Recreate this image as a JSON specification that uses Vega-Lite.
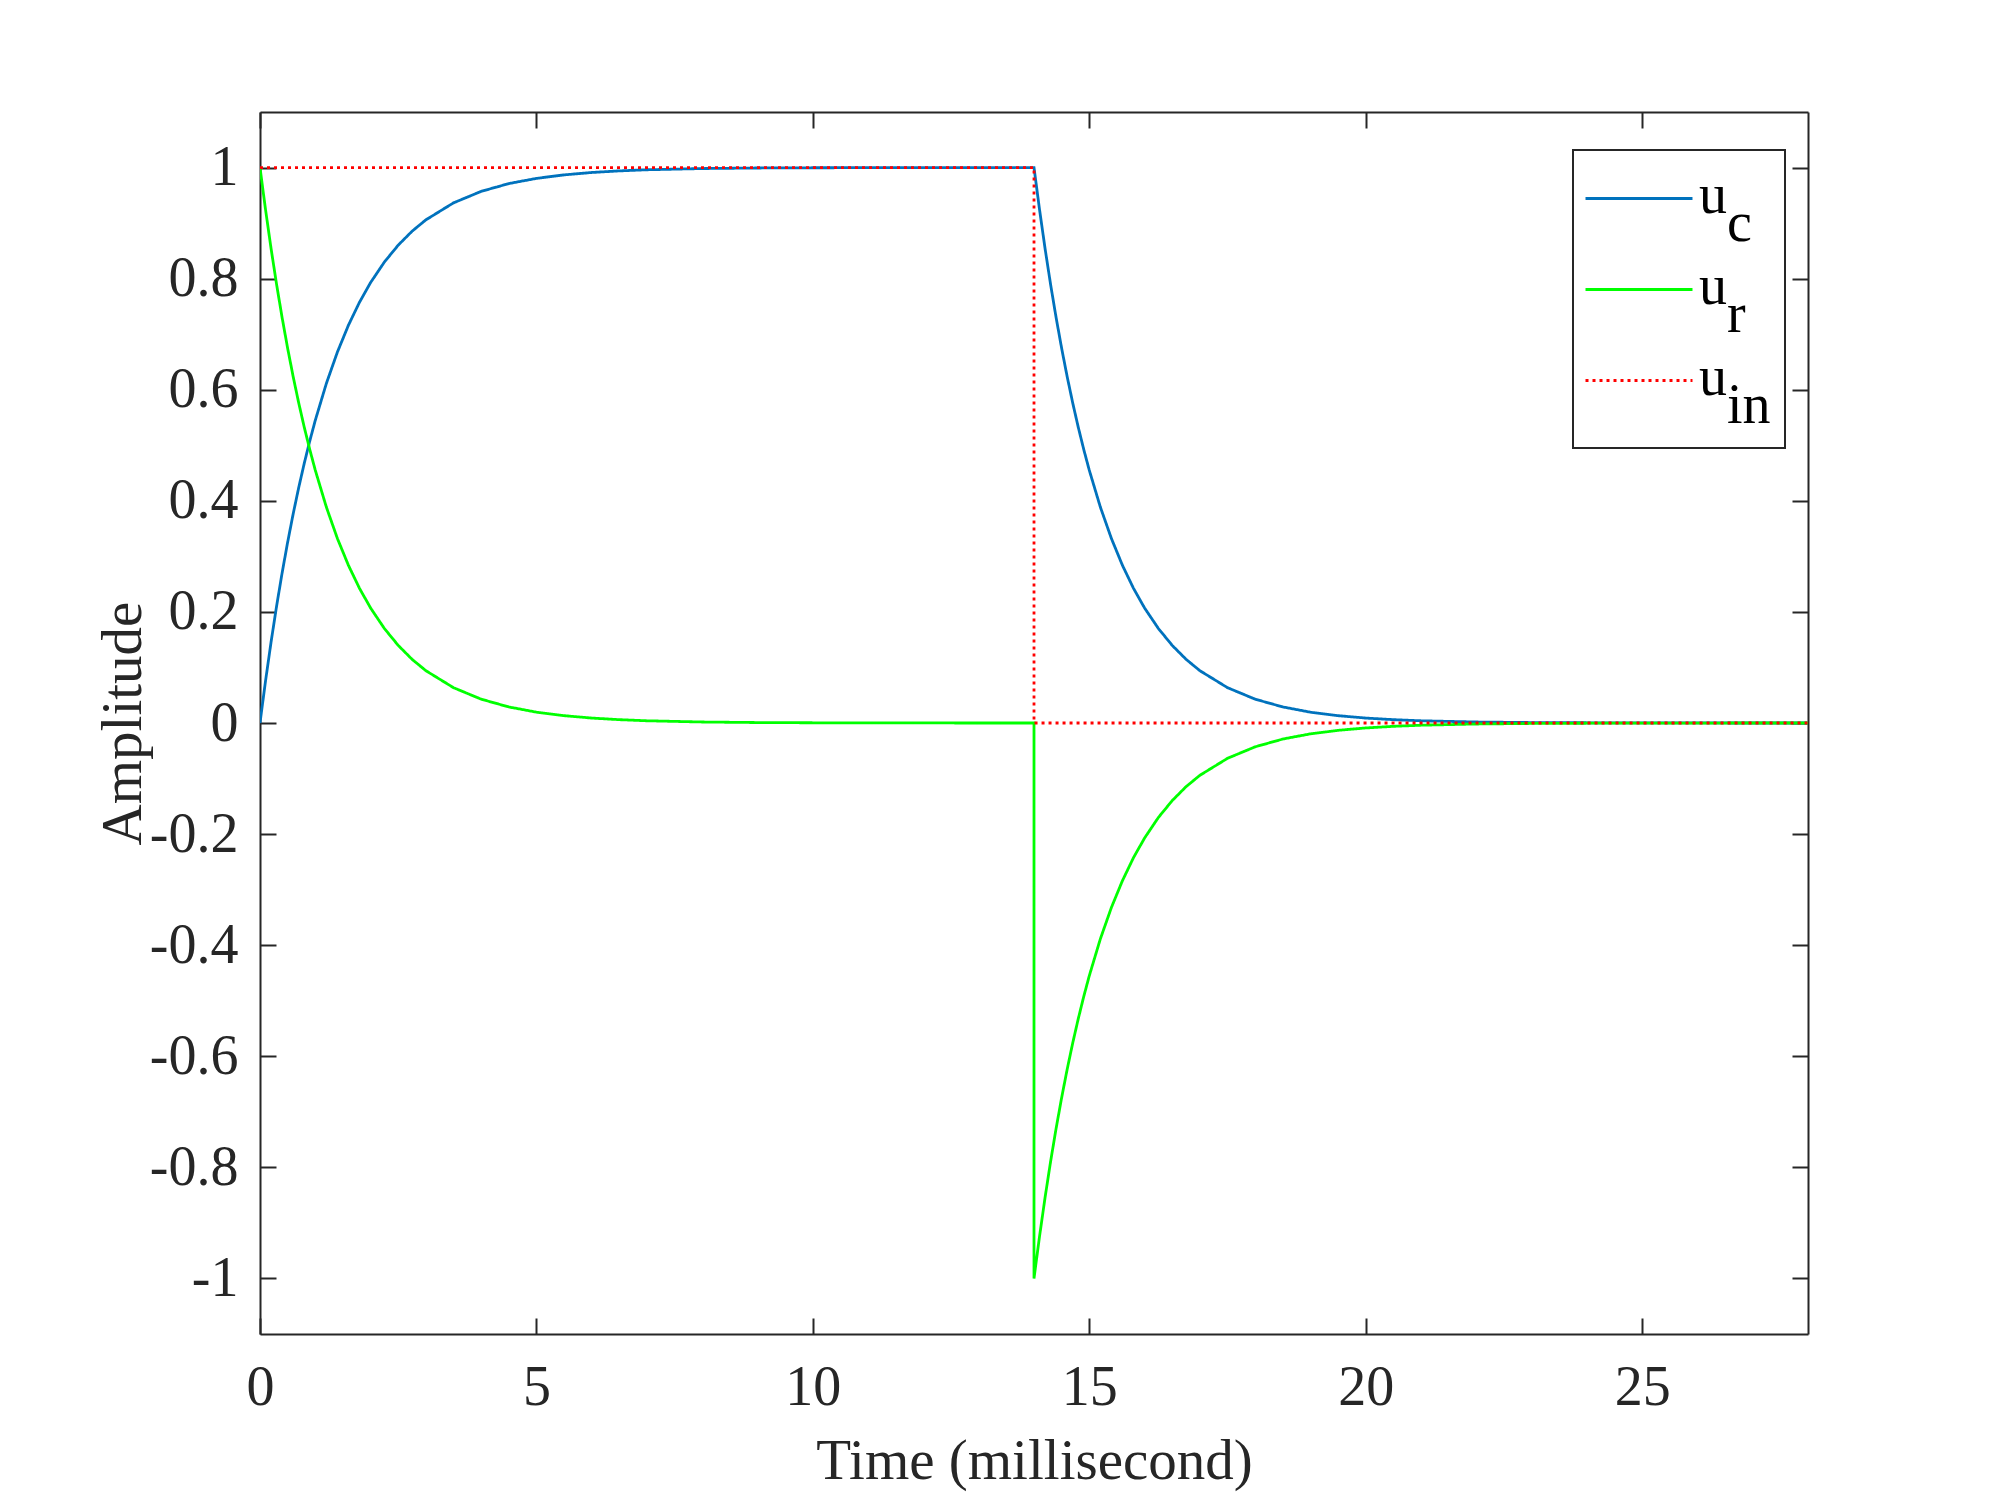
{
  "$schema": "https://vega.github.io/schema/vega-lite/v6.json",
  "autosize": "none",
  "width": 1548,
  "height": 1222,
  "padding": {"left": 260, "top": 112, "right": 192, "bottom": 166},
  "background": "white",
  "config": {
    "view": {"stroke": null},
    "font": "Liberation Serif",
    "axis": {
      "domainColor": "#262626", "domainWidth": 2,
      "tickColor": "#262626", "tickWidth": 2, "tickSize": -16,
      "grid": false, "labelFlush": false,
      "labelFont": "Liberation Serif", "labelFontSize": 56, "labelColor": "#262626",
      "titleFont": "Liberation Serif", "titleFontSize": 57, "titleColor": "#262626", "titleFontWeight": "normal"
    },
    "legend": {
      "strokeColor": "#262626", "strokeWidth": 2, "fillColor": "white",
      "padding": 14, "symbolType": "M-1.621,0H1.621", "symbolSize": 4356, "symbolStrokeWidth": 2.8,
      "symbolOffset": 17.5,
      "labelFont": "Liberation Serif", "labelFontSize": 56, "labelColor": "black",
      "labelOffset": 25.5, "rowPadding": 3
    }
  },
  "data": {"values": [
    {"i":1,"t":0,"uc":0,"ur":1,"uin":1},
    {"i":2,"t":0.1,"uc":0.0757,"ur":0.9243,"uin":1},
    {"i":3,"t":0.2,"uc":0.1457,"ur":0.8543,"uin":1},
    {"i":4,"t":0.3,"uc":0.2104,"ur":0.7896,"uin":1},
    {"i":5,"t":0.4,"uc":0.2702,"ur":0.7298,"uin":1},
    {"i":6,"t":0.5,"uc":0.3254,"ur":0.6746,"uin":1},
    {"i":7,"t":0.6,"uc":0.3765,"ur":0.6235,"uin":1},
    {"i":8,"t":0.7,"uc":0.4237,"ur":0.5763,"uin":1},
    {"i":9,"t":0.8,"uc":0.4673,"ur":0.5327,"uin":1},
    {"i":10,"t":0.9,"uc":0.5076,"ur":0.4924,"uin":1},
    {"i":11,"t":1.0,"uc":0.5449,"ur":0.4551,"uin":1},
    {"i":12,"t":1.2,"uc":0.6112,"ur":0.3888,"uin":1},
    {"i":13,"t":1.4,"uc":0.6678,"ur":0.3322,"uin":1},
    {"i":14,"t":1.6,"uc":0.7162,"ur":0.2838,"uin":1},
    {"i":15,"t":1.8,"uc":0.7576,"ur":0.2424,"uin":1},
    {"i":16,"t":2.0,"uc":0.7929,"ur":0.2071,"uin":1},
    {"i":17,"t":2.25,"uc":0.8299,"ur":0.1701,"uin":1},
    {"i":18,"t":2.5,"uc":0.8603,"ur":0.1397,"uin":1},
    {"i":19,"t":2.75,"uc":0.8853,"ur":0.1147,"uin":1},
    {"i":20,"t":3.0,"uc":0.9058,"ur":0.0942,"uin":1},
    {"i":21,"t":3.5,"uc":0.9364,"ur":0.0636,"uin":1},
    {"i":22,"t":4.0,"uc":0.9571,"ur":0.0429,"uin":1},
    {"i":23,"t":4.5,"uc":0.9711,"ur":0.0289,"uin":1},
    {"i":24,"t":5.0,"uc":0.9805,"ur":0.0195,"uin":1},
    {"i":25,"t":5.5,"uc":0.9868,"ur":0.0132,"uin":1},
    {"i":26,"t":6.0,"uc":0.9911,"ur":0.0089,"uin":1},
    {"i":27,"t":6.5,"uc":0.994,"ur":0.006,"uin":1},
    {"i":28,"t":7,"uc":0.996,"ur":0.004,"uin":1},
    {"i":29,"t":8,"uc":0.9982,"ur":0.0018,"uin":1},
    {"i":30,"t":9,"uc":0.9992,"ur":0.0008,"uin":1},
    {"i":31,"t":10,"uc":0.9996,"ur":0.0004,"uin":1},
    {"i":32,"t":11,"uc":0.9998,"ur":0.0002,"uin":1},
    {"i":33,"t":12,"uc":0.9999,"ur":0.0001,"uin":1},
    {"i":34,"t":13,"uc":1,"ur":0,"uin":1},
    {"i":35,"t":14,"uc":1,"ur":0,"uin":1},
    {"i":36,"t":14,"uc":1,"ur":-1,"uin":0},
    {"i":37,"t":14.1,"uc":0.9243,"ur":-0.9243,"uin":0},
    {"i":38,"t":14.2,"uc":0.8543,"ur":-0.8543,"uin":0},
    {"i":39,"t":14.3,"uc":0.7896,"ur":-0.7896,"uin":0},
    {"i":40,"t":14.4,"uc":0.7298,"ur":-0.7298,"uin":0},
    {"i":41,"t":14.5,"uc":0.6746,"ur":-0.6746,"uin":0},
    {"i":42,"t":14.6,"uc":0.6235,"ur":-0.6235,"uin":0},
    {"i":43,"t":14.7,"uc":0.5763,"ur":-0.5763,"uin":0},
    {"i":44,"t":14.8,"uc":0.5327,"ur":-0.5327,"uin":0},
    {"i":45,"t":14.9,"uc":0.4924,"ur":-0.4924,"uin":0},
    {"i":46,"t":15.0,"uc":0.4551,"ur":-0.4551,"uin":0},
    {"i":47,"t":15.2,"uc":0.3888,"ur":-0.3888,"uin":0},
    {"i":48,"t":15.4,"uc":0.3322,"ur":-0.3322,"uin":0},
    {"i":49,"t":15.6,"uc":0.2838,"ur":-0.2838,"uin":0},
    {"i":50,"t":15.8,"uc":0.2424,"ur":-0.2424,"uin":0},
    {"i":51,"t":16.0,"uc":0.2071,"ur":-0.2071,"uin":0},
    {"i":52,"t":16.25,"uc":0.1701,"ur":-0.1701,"uin":0},
    {"i":53,"t":16.5,"uc":0.1397,"ur":-0.1397,"uin":0},
    {"i":54,"t":16.75,"uc":0.1147,"ur":-0.1147,"uin":0},
    {"i":55,"t":17.0,"uc":0.0942,"ur":-0.0942,"uin":0},
    {"i":56,"t":17.5,"uc":0.0636,"ur":-0.0636,"uin":0},
    {"i":57,"t":18.0,"uc":0.0429,"ur":-0.0429,"uin":0},
    {"i":58,"t":18.5,"uc":0.0289,"ur":-0.0289,"uin":0},
    {"i":59,"t":19.0,"uc":0.0195,"ur":-0.0195,"uin":0},
    {"i":60,"t":19.5,"uc":0.0132,"ur":-0.0132,"uin":0},
    {"i":61,"t":20.0,"uc":0.0089,"ur":-0.0089,"uin":0},
    {"i":62,"t":20.5,"uc":0.006,"ur":-0.006,"uin":0},
    {"i":63,"t":21,"uc":0.004,"ur":-0.004,"uin":0},
    {"i":64,"t":22,"uc":0.0018,"ur":-0.0018,"uin":0},
    {"i":65,"t":23,"uc":0.0008,"ur":-0.0008,"uin":0},
    {"i":66,"t":24,"uc":0.0004,"ur":-0.0004,"uin":0},
    {"i":67,"t":25,"uc":0.0002,"ur":-0.0002,"uin":0},
    {"i":68,"t":26,"uc":0.0001,"ur":-0.0001,"uin":0},
    {"i":69,"t":27,"uc":0,"ur":0,"uin":0},
    {"i":70,"t":28,"uc":0,"ur":0,"uin":0}
  ]},
  "transform": [{"fold": ["uc", "ur", "uin"], "as": ["series", "value"]}],
  "layer": [
    {
      "mark": {"type": "line", "strokeWidth": 2.8, "clip": true},
      "encoding": {
        "x": {"field": "t", "type": "quantitative",
              "scale": {"domain": [0, 28], "nice": false, "zero": false},
              "axis": {"values": [0, 5, 10, 15, 20, 25], "title": "Time (millisecond)",
                       "labelPadding": 42, "titleBaseline": "alphabetic", "titleY": 144}},
        "y": {"field": "value", "type": "quantitative",
              "scale": {"domain": [-1.1, 1.1], "nice": false, "zero": false},
              "axis": {"values": [-1, -0.8, -0.6, -0.4, -0.2, 0, 0.2, 0.4, 0.6, 0.8, 1],
                       "labelExpr": "'' + datum.value", "labelPadding": 38,
                       "title": "Amplitude", "titleBaseline": "alphabetic", "titleX": -120, "titleY": 611, "titleAngle": 270}},
        "color": {"field": "series", "type": "nominal",
                  "scale": {"domain": ["uc", "ur", "uin"], "range": ["#0072BD", "#00FF00", "#FF0000"]},
                  "legend": {
                    "title": null, "orient": "none", "legendX": 1313, "legendY": 38,
                    "labelExpr": "datum.label == 'uc' ? ['u', '\u200b\u00a0\u00a0c'] : datum.label == 'ur' ? ['u', '\u200b\u00a0\u00a0r'] : ['u', '\u200b\u00a0\u00a0in']",
                    "encoding": {"labels": {"lineHeight": {"value": 28}, "dy": {"value": -3}}}
                  }},
        "strokeDash": {"field": "series", "type": "nominal",
                       "scale": {"domain": ["uc", "ur", "uin"], "range": [[1, 0], [1, 0], [3, 4]]},
                       "legend": {
                    "title": null, "orient": "none", "legendX": 1313, "legendY": 38,
                    "labelExpr": "datum.label == 'uc' ? ['u', '\u200b\u00a0\u00a0c'] : datum.label == 'ur' ? ['u', '\u200b\u00a0\u00a0r'] : ['u', '\u200b\u00a0\u00a0in']",
                    "encoding": {"labels": {"lineHeight": {"value": 28}, "dy": {"value": -3}}}
                  }},
        "order": {"field": "i", "type": "quantitative"}
      }
    },
    {
      "mark": {"type": "line", "opacity": 0},
      "encoding": {
        "x": {"field": "t", "type": "quantitative",
              "axis": {"orient": "top", "labels": false, "title": null, "values": [0, 5, 10, 15, 20, 25]}},
        "y": {"field": "value", "type": "quantitative",
              "axis": {"orient": "right", "labels": false, "title": null, "values": [-1, -0.8, -0.6, -0.4, -0.2, 0, 0.2, 0.4, 0.6, 0.8, 1]}},
        "detail": {"field": "series"},
        "order": {"field": "i", "type": "quantitative"}
      }
    }
  ],
  "resolve": {"axis": {"x": "independent", "y": "independent"}}
}
